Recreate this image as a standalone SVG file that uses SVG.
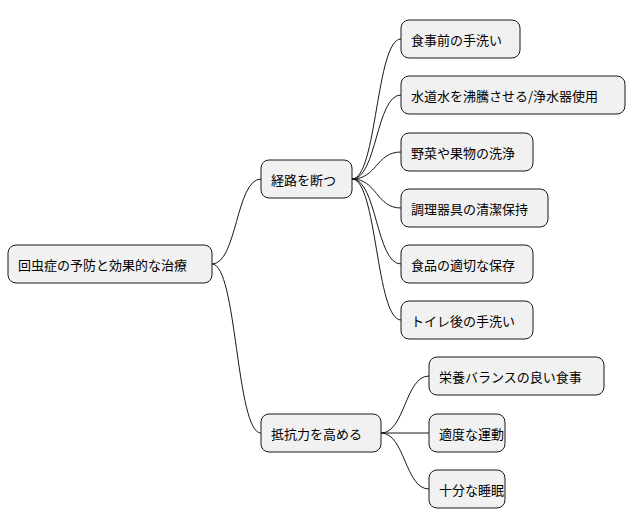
<svg xmlns="http://www.w3.org/2000/svg" width="633" height="527" viewBox="0 0 633 527">
<style>
.n rect{fill:#f1f1f1;stroke:#181818;stroke-width:1}
.n text{font-family:"Noto Sans CJK JP","Noto Sans",sans-serif;font-size:13px;fill:#000;dominant-baseline:central}
#c path{fill:none;stroke:#181818;stroke-width:1}
</style>
<rect width="633" height="527" fill="#fff"/>
<g id="c">
<path d="M212,264 C237,264 236,179 261,179"/>
<path d="M212,264 C237,264 236,433 261,433"/>
<path d="M352,179 C377,179 376,39 401,39"/>
<path d="M352,179 C377,179 376,95 401,95"/>
<path d="M352,179 C377,179 376,152 401,152"/>
<path d="M352,179 C377,179 376,208 401,208"/>
<path d="M352,179 C377,179 376,264 401,264"/>
<path d="M352,179 C377,179 376,320 401,320"/>
<path d="M381,433 C405,433 405,376 429,376"/>
<path d="M381,433 L429,433"/>
<path d="M381,433 C405,433 405,489 429,489"/>
</g>
<g id="root" class="n"><rect x="8" y="245" width="204" height="38" rx="8"/><text x="18" y="264">回虫症の予防と効果的な治療</text></g>
<g id="a" class="n"><rect x="261" y="160" width="91" height="38" rx="8"/><text x="271" y="179">経路を断つ</text></g>
<g id="b" class="n"><rect x="261" y="414" width="120" height="38" rx="8"/><text x="271" y="433">抵抗力を高める</text></g>
<g id="a1" class="n"><rect x="401" y="20" width="119" height="38" rx="8"/><text x="411" y="39">食事前の手洗い</text></g>
<g id="a2" class="n"><rect x="401" y="76" width="224" height="38" rx="8"/><text x="411" y="95">水道水を沸騰させる/浄水器使用</text></g>
<g id="a3" class="n"><rect x="401" y="133" width="132" height="38" rx="8"/><text x="411" y="152">野菜や果物の洗浄</text></g>
<g id="a4" class="n"><rect x="401" y="189" width="147" height="38" rx="8"/><text x="411" y="208">調理器具の清潔保持</text></g>
<g id="a5" class="n"><rect x="401" y="245" width="132" height="38" rx="8"/><text x="411" y="264">食品の適切な保存</text></g>
<g id="a6" class="n"><rect x="401" y="301" width="132" height="38" rx="8"/><text x="411" y="320">トイレ後の手洗い</text></g>
<g id="b1" class="n"><rect x="429" y="357" width="175" height="38" rx="8"/><text x="439" y="376">栄養バランスの良い食事</text></g>
<g id="b2" class="n"><rect x="429" y="414" width="76" height="38" rx="8"/><text x="439" y="433">適度な運動</text></g>
<g id="b3" class="n"><rect x="429" y="470" width="76" height="38" rx="8"/><text x="439" y="489">十分な睡眠</text></g>
</svg>
